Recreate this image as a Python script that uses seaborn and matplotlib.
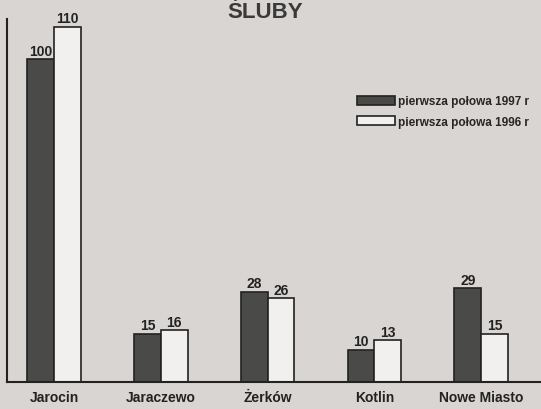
import numpy as np
import matplotlib
matplotlib.use("Agg")
import matplotlib.pyplot as plt
import seaborn as sns
import pandas as pd

gminy = ["Jarocin", "Jaraczewo", "Żerków", "Kotlin", "Nowe Miasto"]
rok_1997 = [100, 15, 28, 10, 29]
rok_1996 = [110, 16, 26, 13, 15]
serie = ["pierwsza połowa 1997 r", "pierwsza połowa 1996 r"]

df = pd.DataFrame({
    "gmina": gminy * 2,
    "liczba": rok_1997 + rok_1996,
    "okres": [serie[0]] * len(gminy) + [serie[1]] * len(gminy),
})

sns.set_style("white")
plt.rcParams["font.family"] = ["Liberation Sans", "DejaVu Sans"]

bg = "#d9d5d3"
dark = "#4a4a48"
fig = plt.figure(figsize=(5.41, 4.10), dpi=100, facecolor=bg)
ax = fig.add_axes([0.013, 27 / 410, 0.987, 363 / 410])
ax.set_facecolor(bg)

sns.barplot(data=df, x="gmina", y="liczba", hue="okres", hue_order=serie,
            palette=[dark, "#f2f0ee"], width=0.5, edgecolor="#222222",
            linewidth=1.2, ax=ax, legend=True)

for cont in ax.containers:
    ax.bar_label(cont, padding=1, fontsize=10, fontweight="bold", color="#222222")

ax.set_xlim(-0.44, 4.56)
ax.set_ylim(0, 112.4)
ax.set_xlabel("")
ax.set_ylabel("")
ax.set_yticks([])
ax.tick_params(axis="x", length=0, pad=6)
for lab in ax.get_xticklabels():
    lab.set_fontweight("bold")
    lab.set_fontsize(10)
    lab.set_color("#222222")
for s in ["top", "right"]:
    ax.spines[s].set_visible(False)
for s in ["left", "bottom"]:
    ax.spines[s].set_color("#222222")
    ax.spines[s].set_linewidth(1.5)

ax.legend(loc="upper left", bbox_to_anchor=(0.655, 0.79), frameon=False,
          prop={"size": 8.5, "weight": "bold"}, handlelength=3.2,
          handleheight=0.8, labelspacing=0.75, handletextpad=0.3,
          borderaxespad=0, borderpad=0)

fig.text(0.49, 0.957, "ŚLUBY", ha="center", va="baseline", fontsize=16,
         fontweight="bold", color="#3a3a3a")

fig.savefig("out.png", dpi=100, facecolor=bg)
